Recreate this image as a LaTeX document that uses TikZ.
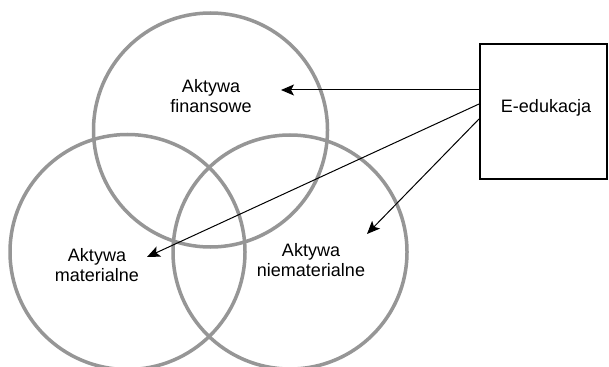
\documentclass[tikz,border=0pt]{standalone}
\usepackage{fontspec}
\setmainfont{Liberation Sans}
\usetikzlibrary{arrows.meta}
\definecolor{ringgray}{RGB}{150,150,150}
\begin{document}
\begin{tikzpicture}[x=1pt,y=-1pt,
  ring/.style={draw=ringgray, line width=3.5pt},
  lbl/.style={font=\fontsize{18}{20}\selectfont, inner sep=0pt, align=center},
  ebox/.style={draw=black, line width=2pt, minimum width=127pt, minimum height=135pt, inner sep=0pt},
  arr/.style={line width=1pt, -{Stealth[length=13pt,width=11pt,inset=3pt]}}
]
\useasboundingbox (0,0) rectangle (609,366);
\fill[white] (0,0) rectangle (609,366);
% circles
\node[ring, circle, minimum size=234pt, inner sep=0pt] (cfin) at (210.5,130) {};
\node[ring, circle, minimum size=235pt, inner sep=0pt] (cmat) at (127.5,252) {};
\node[ring, circle, minimum size=234pt, inner sep=0pt] (cniem) at (290,252) {};
% texts
\node[lbl, anchor=north] (tfin) at (211,79) {Aktywa\\finansowe};
\node[lbl, anchor=north] (tmat) at (97,248) {Aktywa\\materialne};
\node[lbl, anchor=north] (tniem) at (311,243) {Aktywa\\niematerialne};
% box
\node[ebox] (edu) at (543.5,111.5) {};
\node[lbl, anchor=base] (tedu) at (546,112.3) {E-edukacja};
% arrow tips
\coordinate (pfin) at (281,90);
\coordinate (pmat) at (147,257);
\coordinate (pniem) at (367,234);
\draw[arr] ([yshift=21.5pt]edu.west) -- (pfin);
\draw[arr] ([yshift=7.5pt]edu.west) -- (pmat);
\draw[arr] ([yshift=-7.5pt]edu.west) -- (pniem);
\end{tikzpicture}
\end{document}
